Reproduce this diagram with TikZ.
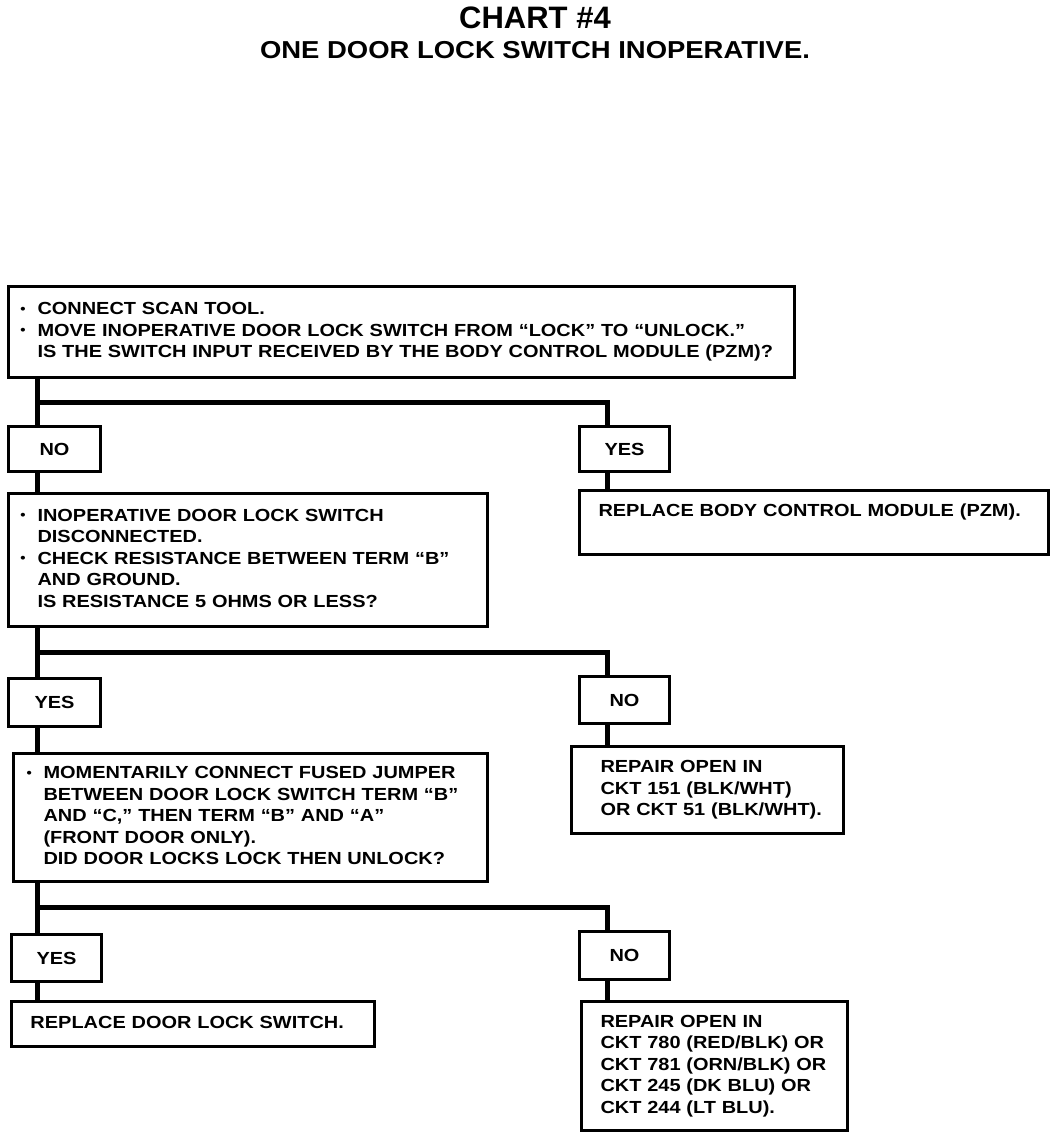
\documentclass[tikz,border=0pt]{standalone}
\usepackage{fontspec}
\setmainfont{Liberation Sans}
\newfontfamily\widefont{Liberation Sans}[FakeStretch=1.14]
\newfontfamily\subfont{Liberation Sans}[FakeStretch=1.12]
\newcommand{\bodyfont}{\widefont\fontsize{17.5}{21.5}\selectfont\bfseries}
\newcommand{\bul}{\makebox[17pt][l]{\raisebox{1.5pt}{\scalebox{0.75}{•}}}}
\newcommand{\ind}{\hspace*{17pt}}
\newcommand{\lines}[2]{\hspace*{#1pt}\raisebox{-2pt}{\begin{tabular}{@{}l@{}}#2\end{tabular}}}
\begin{document}
\begin{tikzpicture}[x=1pt,y=-1pt,
  box/.style={draw, line width=3pt, anchor=north west, align=left, font=\bodyfont, inner xsep=0pt, inner ysep=0pt},
  ansbox/.style={draw, line width=3pt, anchor=north west, align=center, font=\bodyfont, inner sep=0pt},
  conn/.style={line width=5pt}]
\useasboundingbox (0,0) rectangle (1056,1138);
% titles
\node[font=\fontsize{31}{34}\selectfont\bfseries] (title) at (535,18) {CHART \#4};
\node[font=\subfont\fontsize{24.5}{28}\selectfont\bfseries] (subtitle) at (535,50) {ONE DOOR LOCK SWITCH INOPERATIVE.};
% boxes
\node[box, text width=786pt, minimum height=91pt] (box1) at (7,285)
  {\lines{12}{\bul CONNECT SCAN TOOL.\\
   \bul MOVE INOPERATIVE DOOR LOCK SWITCH FROM “LOCK” TO “UNLOCK.”\\
   \ind IS THE SWITCH INPUT RECEIVED BY THE BODY CONTROL MODULE (PZM)?}};
\node[ansbox, minimum width=92pt, minimum height=45pt] (no1) at (7,425) {NO};
\node[ansbox, minimum width=90pt, minimum height=45pt] (yes1) at (578,425) {YES};
\node[box, text width=479pt, minimum height=133pt] (box2) at (7,492)
  {\lines{12}{\bul INOPERATIVE DOOR LOCK SWITCH\\
   \ind DISCONNECTED.\\
   \bul CHECK RESISTANCE BETWEEN TERM “B”\\
   \ind AND GROUND.\\
   \ind IS RESISTANCE 5 OHMS OR LESS?}};
\node[box, text width=469pt, minimum height=64pt] (bcm) at (578,489)
  {\lines{19}{REPLACE BODY CONTROL MODULE (PZM).\\ \strut}};
\node[ansbox, minimum width=92pt, minimum height=48pt] (yes2) at (7,677) {YES};
\node[ansbox, minimum width=90pt, minimum height=47pt] (no2) at (578,675) {NO};
\node[box, text width=474pt, minimum height=128pt] (box3) at (12,752)
  {\lines{13}{\bul MOMENTARILY CONNECT FUSED JUMPER\\
   \ind BETWEEN DOOR LOCK SWITCH TERM “B”\\
   \ind AND “C,” THEN TERM “B” AND “A”\\
   \ind (FRONT DOOR ONLY).\\
   \ind DID DOOR LOCKS LOCK THEN UNLOCK?}};
\node[box, text width=272pt, minimum height=87pt] (rep1) at (570,745)
  {\lines{29}{REPAIR OPEN IN\\
   CKT 151 (BLK/WHT)\\
   OR CKT 51 (BLK/WHT).}};
\node[ansbox, minimum width=90pt, minimum height=47pt] (yes3) at (10,933) {YES};
\node[ansbox, minimum width=90pt, minimum height=48pt] (no3) at (578,930) {NO};
\node[box, text width=363pt, minimum height=45pt] (rdl) at (10,1000)
  {\lines{19}{REPLACE DOOR LOCK SWITCH.}};
\node[box, text width=266pt, minimum height=129pt] (rep2) at (580,1000)
  {\lines{19}{REPAIR OPEN IN\\
   CKT 780 (RED/BLK) OR\\
   CKT 781 (ORN/BLK) OR\\
   CKT 245 (DK BLU) OR\\
   CKT 244 (LT BLU).}};
% connectors
\coordinate (j1) at (37,402);
\coordinate (j2) at (37,652);
\coordinate (j3) at (37,907);
\draw[conn] ([xshift=30pt]box1.south west) -- ([xshift=30pt]no1.north west);
\draw[conn] (j1) -| ([xshift=29pt]yes1.north west);
\draw[conn] ([xshift=30pt]no1.south west) -- ([xshift=30pt]box2.north west);
\draw[conn] ([xshift=29pt]yes1.south west) -- ([xshift=29pt]bcm.north west);
\draw[conn] ([xshift=30pt]box2.south west) -- ([xshift=30pt]yes2.north west);
\draw[conn] (j2) -| ([xshift=29pt]no2.north west);
\draw[conn] ([xshift=30pt]yes2.south west) -- ([xshift=25pt]box3.north west);
\draw[conn] ([xshift=29pt]no2.south west) -- ([xshift=37pt]rep1.north west);
\draw[conn] ([xshift=25pt]box3.south west) -- ([xshift=27pt]yes3.north west);
\draw[conn] (j3) -| ([xshift=29pt]no3.north west);
\draw[conn] ([xshift=27pt]yes3.south west) -- ([xshift=27pt]rdl.north west);
\draw[conn] ([xshift=29pt]no3.south west) -- ([xshift=27pt]rep2.north west);
\end{tikzpicture}
\end{document}
